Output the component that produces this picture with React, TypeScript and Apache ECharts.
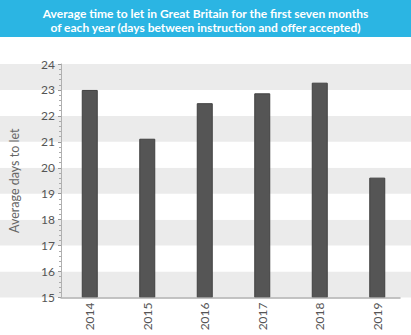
import React, { useEffect, useRef } from "react";
import * as echarts from "echarts";

const years = ["2014", "2015", "2016", "2017", "2018", "2019"];
const days = [23.0, 21.12, 22.49, 22.87, 23.28, 19.62];
const titleLines = [
  "Average time to let in Great Britain for the first seven months",
  "of each year (days between instruction and offer accepted)",
];
const yName = "Average days to let";

const TOP = 64;
const HEIGHT = 233.5;
const FONT = "Lato, 'Open Sans', sans-serif";

export default function App() {
  const ref = useRef<HTMLDivElement>(null);
  useEffect(() => {
    if (!ref.current) return;
    const chart = echarts.init(ref.current, null, { renderer: "svg" });
    chart.setOption({
      animation: false,
      backgroundColor: "#ffffff",
      graphic: [
        {
          type: "rect",
          shape: { x: 0, y: 0, width: 411, height: 37 },
          style: { fill: "#2bb5e3" },
          z: 0,
        },
      ],
      title: {
        text: titleLines.join("\n"),
        left: "center",
        top: 0,
        padding: [6, 5, 0, 5],
        textStyle: {
          color: "#ffffff",
          fontFamily: FONT,
          fontWeight: "bold",
          fontSize: 12,
          lineHeight: 14,
        },
        z: 10,
      },
      grid: [
        { left: 0, right: 0, top: TOP, height: HEIGHT },
        { left: 46, right: 11, top: TOP, height: HEIGHT },
        { left: 61, right: 5, top: TOP, height: HEIGHT },
      ],
      xAxis: [
        { type: "category", gridIndex: 0, data: years, show: false },
        {
          type: "category",
          gridIndex: 1,
          data: years,
          axisLine: { show: true, lineStyle: { color: "#b0b0b0", width: 1.5 } },
          axisTick: { show: false },
          axisLabel: { show: false },
          z: 5,
        },
        {
          type: "category",
          gridIndex: 2,
          data: years,
          axisLine: { show: false },
          axisTick: { show: false },
          axisLabel: {
            rotate: 90,
            margin: 5,
            color: "#555",
            fontFamily: FONT,
            fontSize: 12,
          },
        },
      ],
      yAxis: [
        {
          type: "value",
          gridIndex: 0,
          min: 15,
          max: 24,
          interval: 1,
          axisLine: { show: false },
          axisTick: { show: false },
          axisLabel: { show: false },
          splitLine: { show: false },
          splitArea: { show: true, areaStyle: { color: ["#ebebeb", "#ffffff"] } },
        },
        {
          type: "value",
          gridIndex: 1,
          min: 15,
          max: 24,
          interval: 1,
          name: yName,
          nameLocation: "middle",
          nameGap: 40,
          nameTextStyle: { color: "#666", fontFamily: FONT, fontSize: 12.5 },
          axisLine: { show: true, lineStyle: { color: "#b0b0b0", width: 1 } },
          axisTick: { show: true, length: 3, lineStyle: { color: "#999" } },
          minorTick: { show: true, splitNumber: 5, length: 2, lineStyle: { color: "#aaa" } },
          axisLabel: { color: "#555", fontFamily: FONT, fontSize: 12, margin: 6 },
          splitLine: { show: false },
        },
        {
          type: "value",
          gridIndex: 2,
          min: 15,
          max: 24,
          interval: 1,
          show: false,
          splitLine: { show: false },
        },
      ],
      series: [
        {
          type: "bar",
          xAxisIndex: 2,
          yAxisIndex: 2,
          data: days,
          barWidth: 16,
          itemStyle: { color: "#555555", borderColor: "#404040", borderWidth: 1 },
          z: 3,
        },
      ],
    });
    return () => chart.dispose();
  }, []);
  return <div ref={ref} style={{ width: 411, height: 335, position: "absolute", left: 0, top: 0 }} />;
}
